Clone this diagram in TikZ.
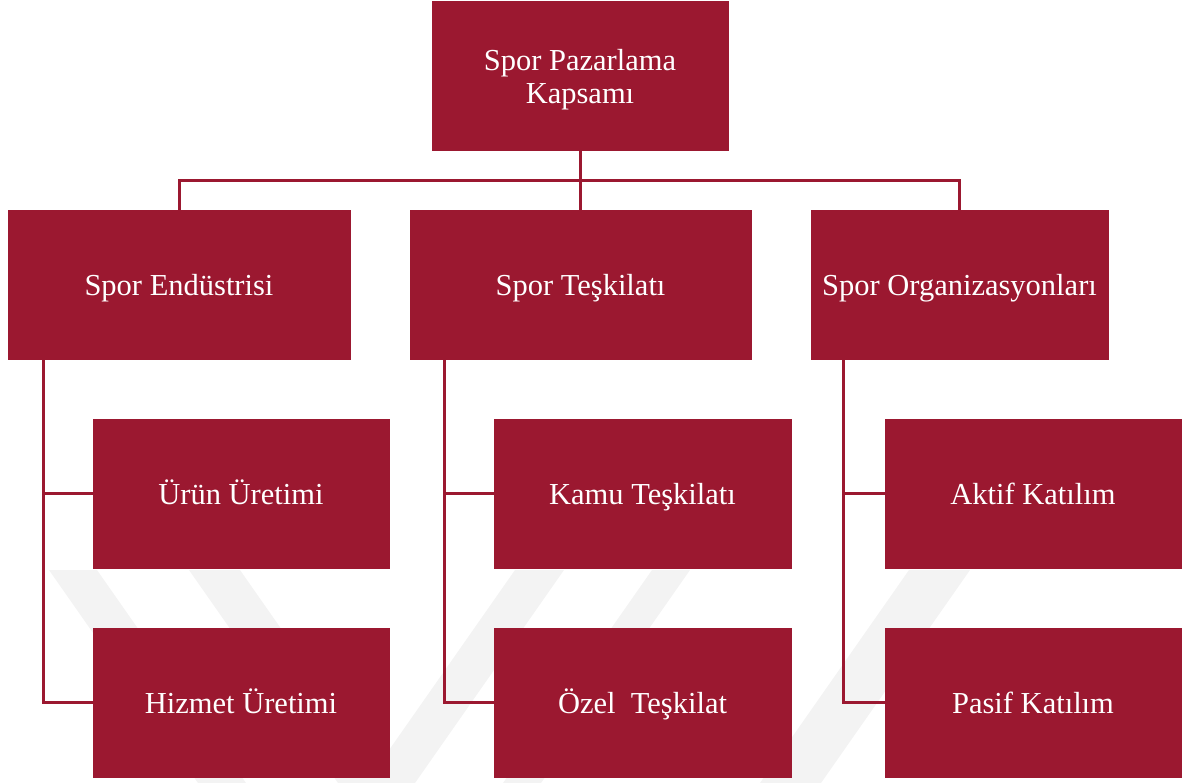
\documentclass[tikz,border=0pt]{standalone}
\usepackage{fontspec}
\setmainfont{Liberation Serif}
\definecolor{crim}{RGB}{155,24,48}
\definecolor{wmgray}{RGB}{243,243,243}
\begin{document}
\begin{tikzpicture}[x=1pt,y=-1pt,
  box/.style={fill=crim, draw=crim, inner sep=0pt, outer sep=0pt, minimum height=149pt,
    text=white, align=center, font=\fontsize{30.5}{33}\selectfont},
  oneline/.style={text height=25pt, text depth=3pt},
  wide/.style={minimum width=342pt},
  narrow/.style={minimum width=296pt},
  conn/.style={draw=crim, line width=3pt},
  wm/.style={fill=wmgray}]
\useasboundingbox (0,0) rectangle (1185,783);
% faint watermark
\begin{scope}
\clip (0,570) rectangle (1185,783);
\fill[wm] (49,570) -- (97,570) -- (246,783) -- (198,783) -- cycle;
\fill[wm] (189,570) -- (240,570) -- (389,783) -- (338,783) -- cycle;
\fill[wm] (515,570) -- (564,570) -- (415,783) -- (366,783) -- cycle;
\fill[wm] (652,570) -- (690,570) -- (541,783) -- (503,783) -- cycle;
\fill[wm] (909,570) -- (970,570) -- (821,783) -- (760,783) -- cycle;
\end{scope}
% nodes
\node[box, narrow] (top) at (580,75.5) {\raisebox{-4pt}[\height][\depth]{\parbox{280pt}{\centering Spor Pazarlama\\Kapsamı}}};
\node[box, oneline, wide] (e1) at (179,284.5) {Spor Endüstrisi};
\node[box, oneline, minimum width=341pt] (e2) at (580.5,284.5) {Spor Teşkilatı};
\node[box, oneline, minimum width=297pt] (e3) at (959.5,284.5) {Spor Organizasyonları};
\node[box, oneline, narrow] (u1) at (241,493.5) {Ürün Üretimi};
\node[box, oneline, narrow] (h1) at (241,702.5) {Hizmet Üretimi};
\node[box, oneline, minimum width=297pt] (u2) at (642.5,493.5) {Kamu Teşkilatı};
\node[box, oneline, minimum width=297pt] (h2) at (642.5,702.5) {Özel\ \ Teşkilat};
\node[box, oneline, narrow] (u3) at (1033,493.5) {Aktif Katılım};
\node[box, oneline, narrow] (h3) at (1033,702.5) {Pasif Katılım};
% connectors
\coordinate (bus) at (580,181);
\coordinate (t1) at (43,359);
\coordinate (t2) at (444,359);
\coordinate (t3) at (843,359);
\draw[conn] (top.south) -- (top.south |- e2.north);
\draw[conn] (e1.north) |- (bus) -| (e3.north);
\draw[conn] (t1) |- (h1.west);
\draw[conn] (u1.west -| t1) -- (u1.west);
\draw[conn] (t2) |- (h2.west);
\draw[conn] (u2.west -| t2) -- (u2.west);
\draw[conn] (t3) |- (h3.west);
\draw[conn] (u3.west -| t3) -- (u3.west);
\end{tikzpicture}
\end{document}
